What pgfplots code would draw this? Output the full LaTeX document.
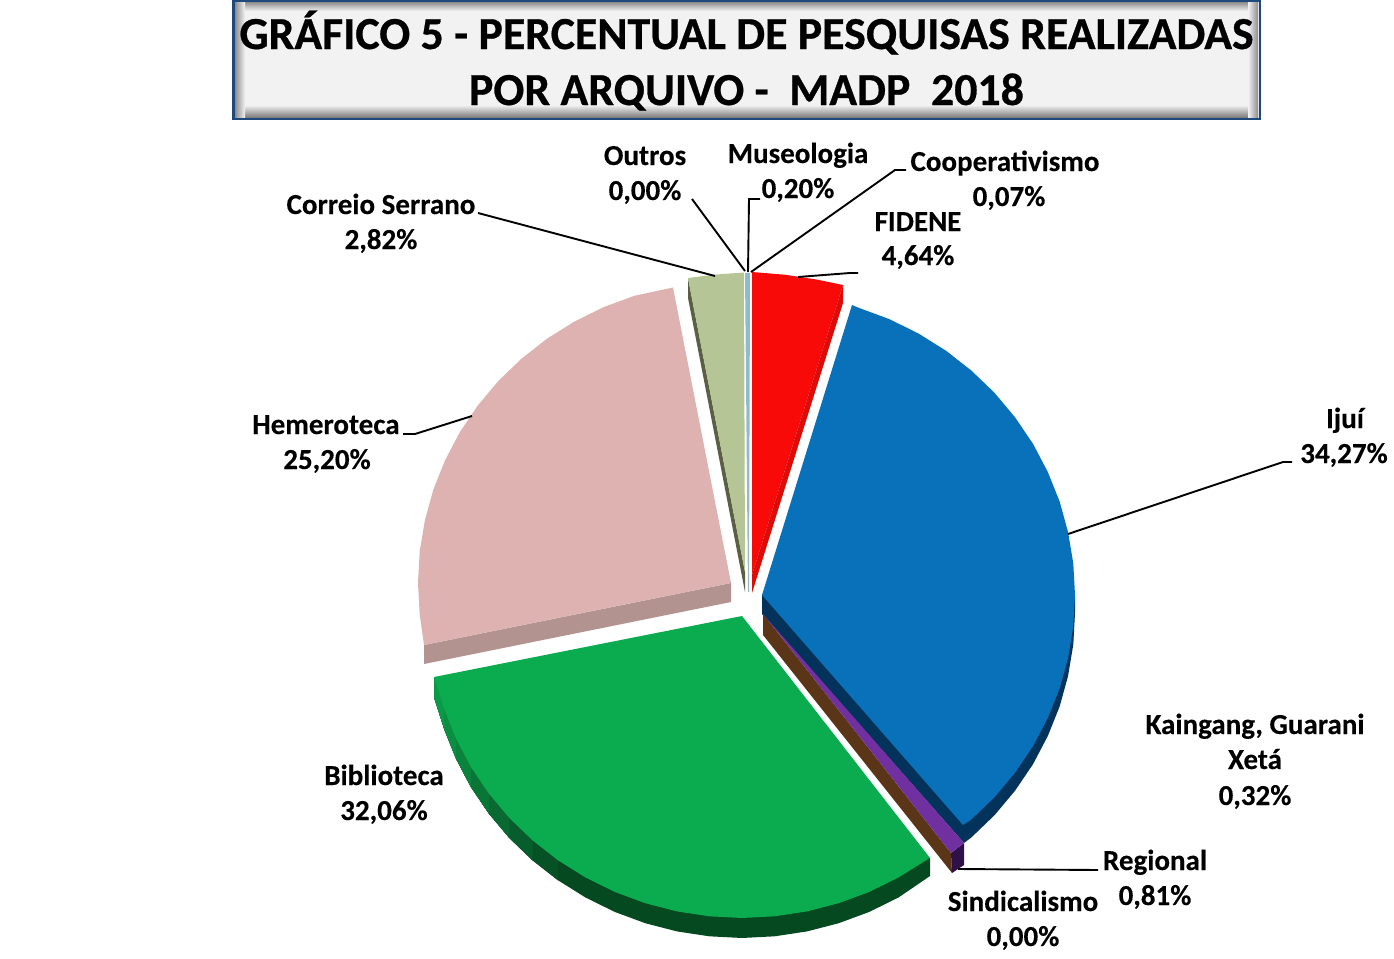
\documentclass[border=0pt]{standalone}
\usepackage{fontspec}
\setmainfont{Carlito}
\newfontfamily\labfont[BoldFeatures={FakeBold=0.25}]{Carlito}
\newfontfamily\ttlfont[BoldFeatures={FakeBold=0.6}]{Carlito}
\usepackage{pgfplots}
\pgfplotsset{compat=1.18}
\definecolor{cred}{HTML}{F70A07}
\definecolor{credd}{HTML}{DC0C08}
\definecolor{cblue}{HTML}{0970BA}
\definecolor{cblued}{HTML}{03335A}
\definecolor{cgreen}{HTML}{0BAB50}
\definecolor{cgside1}{HTML}{0A9A48}
\definecolor{cgside2}{HTML}{0A8E42}
\definecolor{cgside3}{HTML}{0A833C}
\definecolor{cgside4}{HTML}{0A7636}
\definecolor{cgside5}{HTML}{086A30}
\definecolor{cgside6}{HTML}{075D2B}
\definecolor{cgside7}{HTML}{065226}
\definecolor{cgside8}{HTML}{04491F}
\definecolor{cpink}{HTML}{DDB2B0}
\definecolor{cpinkd}{HTML}{B39390}
\definecolor{ctan}{HTML}{B5C595}
\definecolor{ctand}{HTML}{5B6045}
\definecolor{csky}{HTML}{8FBBD0}
\definecolor{cpurple}{HTML}{7030A0}
\definecolor{cpurpled}{HTML}{2E1247}
\definecolor{cbrown}{HTML}{5A3518}
\definecolor{cframe}{HTML}{1F497D}
\tikzset{lab/.style={anchor=base,inner sep=0pt,font=\labfont\fontsize{14.5}{16}\selectfont\bfseries,text=black},
  ttl/.style={anchor=base,inner sep=0pt,font=\ttlfont\fontsize{22.9}{26}\selectfont\bfseries,text=black}}
\pgfplotsset{wedge/.style={fill=#1,draw=none,forget plot},
  leader/.style={black,line width=0.95pt,forget plot}}
\begin{document}
\begin{tikzpicture}
\path[use as bounding box] (0,0) rectangle (697pt,479.5pt);
\begin{axis}[at={(0,0)},anchor=south west,scale only axis,width=697pt,height=479.5pt,
  xmin=0,xmax=1394,ymin=0,ymax=959,y dir=reverse,hide axis,clip=false]
% title box
\fill[black!5] (axis cs:233,0) rectangle (axis cs:1260,119);
\shade[top color=black!45,bottom color=black!5] (axis cs:235,2) rectangle (axis cs:1258,11);
\shade[top color=black!5,bottom color=black!50] (axis cs:235,105) rectangle (axis cs:1258,117);
\shade[left color=black!45,right color=black!5] (axis cs:235,2) rectangle (axis cs:245,117);
\shade[left color=black!5,right color=black!45] (axis cs:1248,2) rectangle (axis cs:1258,117);
\draw[cframe,line width=1.2pt] (axis cs:233.5,1) rectangle (axis cs:1260,119);
\node[ttl] at (axis cs:746.5,49) {GRÁFICO 5 - PERCENTUAL DE PESQUISAS REALIZADAS};
\node[ttl] at (axis cs:746.5,105) {POR ARQUIVO -\ \ MADP\ \ 2018};
% sides
\addplot[wedge=ctand] coordinates {(688,278) (688,298) (745,592) (745,572)} --cycle;
\addplot[wedge=credd] coordinates {(843,285) (843,303) (752,593) (752,575)} --cycle;
\addplot[wedge=cblued] coordinates {(762,595) (762,614) (964,843) (971.4,837.4) (994.6,815.1) (1015.2,790.5) (1033.1,764) (1047.9,735.8) (1059.7,706.3) (1068.1,675.8) (1073.3,644.6) (1075,613) (1075,595)} --cycle;
\addplot[wedge=cbrown] coordinates {(763,614) (951,853) (952,873) (763,635)} --cycle;
\addplot[wedge=cpurpled] coordinates {(964,843) (964,865) (952,873) (951,853)} --cycle;
\addplot[wedge=cpinkd] coordinates {(424,645) (424,664) (731,602) (731,583)} --cycle;
% green side, dark first, lighter pieces over it towards the left corner
\addplot[wedge=cgside8] coordinates {(434,677) (930,858) (930,876) (898.5,897.5) (869.3,911.9) (838.7,923.2) (807.1,931.4) (774.7,936.3) (742,938) (709.3,936.3) (676.9,931.4) (645.3,923.2) (614.7,911.9) (585.5,897.5) (558,880.3) (532.6,860.4) (509.4,838.1) (488.8,813.5) (470.9,787) (456.1,758.8) (444.3,729.3) (434,697)} --cycle;
\addplot[wedge=cgside7] coordinates {(434,677) (558,860.3) (558,880.3) (532.6,860.4) (509.4,838.1) (488.8,813.5) (470.9,787) (456.1,758.8) (444.3,729.3) (434,697)} --cycle;
\addplot[wedge=cgside6] coordinates {(434,677) (532.6,840.4) (532.6,860.4) (509.4,838.1) (488.8,813.5) (470.9,787) (456.1,758.8) (444.3,729.3) (434,697)} --cycle;
\addplot[wedge=cgside5] coordinates {(434,677) (509.4,818.1) (509.4,838.1) (488.8,813.5) (470.9,787) (456.1,758.8) (444.3,729.3) (434,697)} --cycle;
\addplot[wedge=cgside4] coordinates {(434,677) (488.8,793.5) (488.8,813.5) (470.9,787) (456.1,758.8) (444.3,729.3) (434,697)} --cycle;
\addplot[wedge=cgside3] coordinates {(434,677) (470.9,767) (470.9,787) (456.1,758.8) (444.3,729.3) (434,697)} --cycle;
\addplot[wedge=cgside2] coordinates {(434,677) (456.1,738.8) (456.1,758.8) (444.3,729.3) (434,697)} --cycle;
\addplot[wedge=cgside1] coordinates {(434,677) (444.3,709.3) (444.3,729.3) (434,697)} --cycle;
% top faces
\addplot[wedge=cred] coordinates {(752,575) (752,272) (784.7,274.7) (817.1,279.6) (843,285)} --cycle;
\addplot[wedge=cblue] coordinates {(762,595) (852,305) (858.7,307.8) (889.3,319.1) (918.5,333.5) (946,350.7) (971.4,370.6) (994.6,392.9) (1015.2,417.5) (1033.1,444) (1047.9,472.2) (1059.7,501.7) (1068.1,532.2) (1073.3,563.4) (1075,595) (1073.3,626.6) (1068.1,657.8) (1059.7,688.3) (1047.9,717.8) (1033.1,746) (1015.2,772.5) (994.6,797.1) (971.4,819.4) (963,825)} --cycle;
\addplot[wedge=cpurple] coordinates {(763,614) (964,843) (951,853)} --cycle;
\addplot[wedge=cgreen] coordinates {(742,616) (930,858) (926,860.3) (898.5,877.5) (869.3,891.9) (838.7,903.2) (807.1,911.4) (774.7,916.3) (742,918) (709.3,916.3) (676.9,911.4) (645.3,903.2) (614.7,891.9) (585.5,877.5) (558,860.3) (532.6,840.4) (509.4,818.1) (488.8,793.5) (470.9,767) (456.1,738.8) (444.3,709.3) (434,677)} --cycle;
\addplot[wedge=cpink] coordinates {(731,583) (424,645) (419.7,614.6) (418,583) (419.7,551.4) (424.9,520.2) (433.3,489.7) (445.1,460.2) (459.9,432) (477.8,405.5) (498.4,380.9) (521.6,358.6) (547,338.7) (574.5,321.5) (603.7,307.1) (634.3,295.8) (673,287.5)} --cycle;
\addplot[wedge=ctan] coordinates {(745,572) (688,278) (716,274.5) (744,272.5)} --cycle;
\addplot[wedge=csky] coordinates {(745,273) (750,273) (749,592) (748,592)} --cycle;
% leader lines
\addplot[leader] coordinates {(478,213) (715,276)};
\addplot[leader] coordinates {(692,199) (745,271)};
\addplot[leader] coordinates {(760,199) (749,199) (748,272)};
\addplot[leader] coordinates {(906,170) (895,170) (751,272)};
\addplot[leader] coordinates {(858,273) (850,273) (798,277)};
\addplot[leader] coordinates {(1292,462) (1283,462) (1068,534)};
\addplot[leader] coordinates {(403,434) (415,434) (472,416)};
\addplot[leader] coordinates {(1098,870) (958,869)};
% labels
\node[lab] at (axis cs:645,165) {Outros};
\node[lab] at (axis cs:645,200) {0,00\%};
\node[lab] at (axis cs:798,163) {Museologia};
\node[lab] at (axis cs:798,198) {0,20\%};
\node[lab] at (axis cs:1005,171) {Cooperativismo};
\node[lab] at (axis cs:1009,206) {0,07\%};
\node[lab] at (axis cs:918,231) {FIDENE};
\node[lab] at (axis cs:918,265) {4,64\%};
\node[lab] at (axis cs:381,214) {Correio Serrano};
\node[lab] at (axis cs:381,249) {2,82\%};
\node[lab] at (axis cs:326,434) {Hemeroteca};
\node[lab] at (axis cs:327,469) {25,20\%};
\node[lab] at (axis cs:1345,428) {Ijuí};
\node[lab] at (axis cs:1344,463) {34,27\%};
\node[lab] at (axis cs:1255,734) {Kaingang, Guarani};
\node[lab] at (axis cs:1255,769) {Xetá};
\node[lab] at (axis cs:1255,805) {0,32\%};
\node[lab] at (axis cs:1155,870) {Regional};
\node[lab] at (axis cs:1155,905) {0,81\%};
\node[lab] at (axis cs:1023,911) {Sindicalismo};
\node[lab] at (axis cs:1023,946) {0,00\%};
\node[lab] at (axis cs:384,785) {Biblioteca};
\node[lab] at (axis cs:384,820) {32,06\%};
\end{axis}
\end{tikzpicture}
\end{document}
